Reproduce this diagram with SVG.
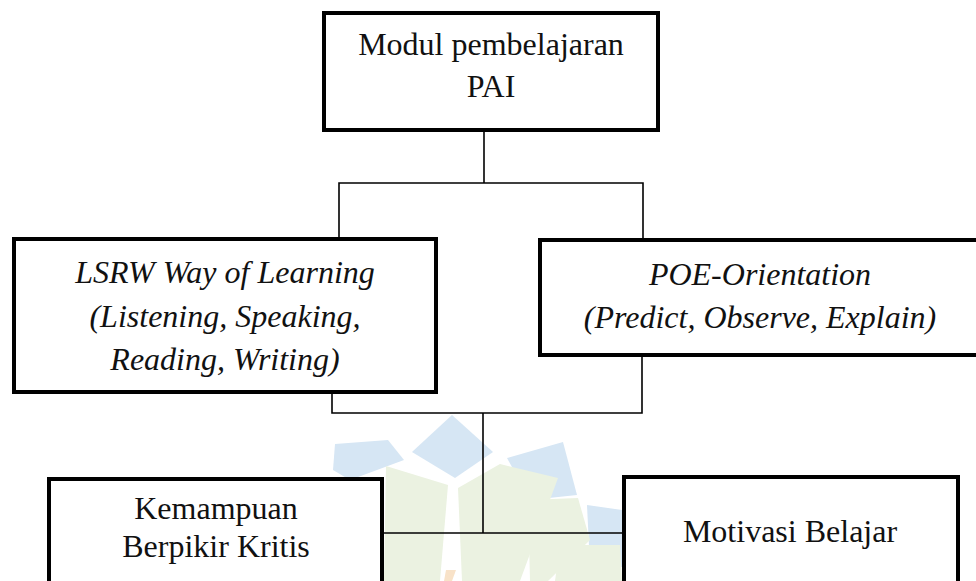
<svg xmlns="http://www.w3.org/2000/svg" width="976" height="581" viewBox="0 0 976 581">
<style>
.box{fill:#fff;stroke:#000;stroke-width:4}
.con{fill:none;stroke:#000;stroke-width:1.6}
.t{font-family:"Liberation Serif","Times New Roman",Tinos,"DejaVu Serif",serif;font-size:32px;fill:#111;text-anchor:middle}
.it{font-style:italic}
.wb{fill:#d6e6f4}
.wg{fill:#ebf2e1}
</style>
<rect width="976" height="581" fill="#fff"/>
<g id="watermark">
<polygon class="wb" points="452,415 493,452 455,478 412,452"/>
<polygon class="wb" points="335,444 388,440 404,460 350,480 333,470"/>
<polygon class="wb" points="507,458 563,442 577,495 530,500"/>
<polygon class="wb" points="587,505 622,510 624,567 590,567"/>
<polygon class="wg" points="386,466 448,485 440,581 384,581"/>
<polygon class="wg" points="458,488 500,464 558,478 520,581 462,581"/>
<polygon class="wg" points="528,500 578,498 590,540 548,581 530,581"/>
<polygon class="wg" points="560,545 620,545 622,581 555,581"/>
<polygon points="446,570 456,570 452,581 444,581" fill="#f8e2c8"/>
</g>
<g id="connectors">
<path class="con" d="M484,130 V183"/>
<path class="con" d="M339,238 V183 H643 V240"/>
<path class="con" d="M332,392 V413 H642 V355"/>
<path class="con" d="M483,413 V533"/>
<path class="con" d="M382,533 H624" stroke-width="2"/>
</g>
<g id="node-modul">
<rect class="box" x="324" y="13" width="334" height="117"/>
<text class="t" x="491" y="55" font-family="Liberation Serif, serif">Modul pembelajaran</text>
<text class="t" x="491" y="97" font-family="Liberation Serif, serif">PAI</text>
</g>
<g id="node-lsrw">
<rect class="box" x="14" y="239" width="422" height="153"/>
<text class="t it" x="225" y="283" font-family="Liberation Serif, serif">LSRW Way of Learning</text>
<text class="t it" x="225" y="327" font-family="Liberation Serif, serif">(Listening, Speaking,</text>
<text class="t it" x="225" y="370" font-family="Liberation Serif, serif">Reading, Writing)</text>
</g>
<g id="node-poe">
<rect class="box" x="540" y="240" width="440" height="115"/>
<text class="t it" x="760" y="285" font-family="Liberation Serif, serif">POE-Orientation</text>
<text class="t it" x="760" y="328" font-family="Liberation Serif, serif">(Predict, Observe, Explain)</text>
</g>
<g id="node-kemampuan">
<rect class="box" x="49" y="479" width="333" height="130"/>
<text class="t" x="216" y="519" font-family="Liberation Serif, serif">Kemampuan</text>
<text class="t" x="216" y="557" font-family="Liberation Serif, serif">Berpikir Kritis</text>
</g>
<g id="node-motivasi">
<rect class="box" x="624" y="477" width="334" height="130"/>
<text class="t" x="790" y="542" font-family="Liberation Serif, serif">Motivasi Belajar</text>
</g>
</svg>
